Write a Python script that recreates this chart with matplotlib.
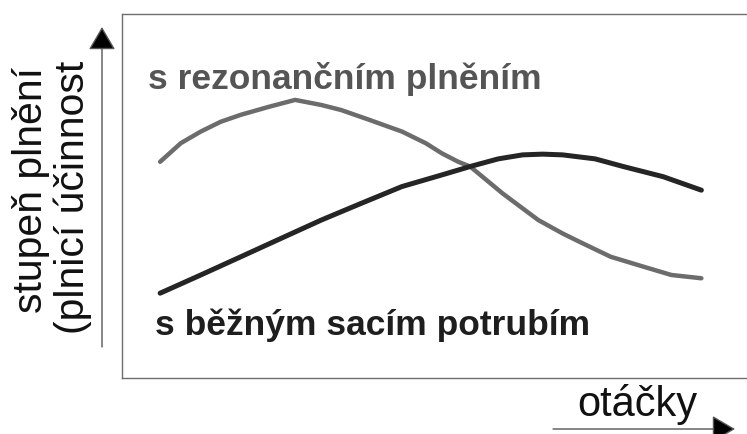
import matplotlib
matplotlib.use("Agg")
import matplotlib.pyplot as plt  # noqa: E402

plt.rcParams["font.family"] = ["Liberation Sans", "DejaVu Sans"]

# engine speed (relative, 0-100 across the frame) vs. volumetric efficiency (relative)
rpm_resonant = [6.1, 9.4, 12.6, 15.8, 19.0, 23.5, 27.7, 31.9, 35.1, 39.6, 44.8, 48.6, 51.2,
                53.8, 55.7, 58.3, 60.9, 64.1, 66.6, 70.5, 73.7, 78.2, 83.4, 87.9, 92.7]
fill_resonant = [59.4, 64.5, 67.7, 70.4, 72.3, 74.5, 76.4, 75.0, 73.6, 70.9, 67.7, 64.5, 61.7,
                 59.4, 58.1, 54.4, 50.7, 46.6, 43.4, 39.7, 37.0, 33.3, 30.6, 28.3, 27.4]

rpm_normal = [6.1, 12.6, 19.0, 25.5, 31.9, 38.3, 44.8, 51.2, 55.7, 60.2, 64.1, 67.3, 70.5,
              75.7, 80.2, 86.6, 92.7]
fill_normal = [23.3, 28.3, 33.3, 38.4, 43.4, 48.0, 52.6, 55.8, 58.1, 60.2, 61.3, 61.5, 61.3,
               60.2, 58.1, 55.3, 51.6]

label_resonant = "s rezonančním plněním"
label_normal = "s běžným sacím potrubím"
ylabel_lines = ["stupeň plnění", "(plnicí účinnost"]
xlabel = "otáčky"

W, H = 747, 434
fig = plt.figure(figsize=(W / 100, H / 100), dpi=100)
fig.patch.set_facecolor("white")

# frame: left edge x=122, top y=14, bottom y=378 (pixels from top)
ax = fig.add_axes([122 / W, (H - 378) / H, 1 - 122 / W, (378 - 14) / H])
ax.set_xlim(0, 100)
ax.set_ylim(0, 100)
ax.set_xticks([])
ax.set_yticks([])
ax.spines["right"].set_visible(False)
for side in ("left", "top", "bottom"):
    ax.spines[side].set_color("#6e6e6e")
    ax.spines[side].set_linewidth(1.0)

ax.plot(rpm_resonant, fill_resonant, color="#6c6c6c", lw=3.2,
        solid_capstyle="round", solid_joinstyle="round")
ax.plot(rpm_normal, fill_normal, color="#252525", lw=3.6,
        solid_capstyle="round", solid_joinstyle="round")

fig.text(148 / W, (H - 89) / H, label_resonant, fontsize=25.5, fontweight="bold",
         color="#555555", ha="left", va="baseline")
fig.text(155 / W, (H - 335) / H, label_normal, fontsize=25.5, fontweight="bold",
         color="#1e1e1e", ha="left", va="baseline")

fig.text(31 / W, (H - 190) / H, ylabel_lines[0], fontsize=29.5, rotation=90,
         color="#111111", ha="center", va="center")
fig.text(73 / W, (H - 197) / H, ylabel_lines[1], fontsize=29.5, rotation=90,
         color="#111111", ha="center", va="center")
fig.text(577 / W, (H - 416) / H, xlabel, fontsize=30, color="#111111",
         ha="left", va="baseline")

arrow_kw = dict(arrowstyle="-|>,head_length=1.45,head_width=0.85",
                mutation_scale=10, lw=1.0, ec="#555555", fc="black",
                shrinkA=0, shrinkB=0)
fig.add_artist(plt.Annotation("", xy=(102, H - 27), xytext=(102, H - 347),
                              xycoords="figure pixels", textcoords="figure pixels",
                              arrowprops=arrow_kw))
fig.add_artist(plt.Annotation("", xy=(735, H - 429), xytext=(553, H - 429),
                              xycoords="figure pixels", textcoords="figure pixels",
                              arrowprops=arrow_kw))

fig.savefig("out.png", dpi=100)
plt.close(fig)
